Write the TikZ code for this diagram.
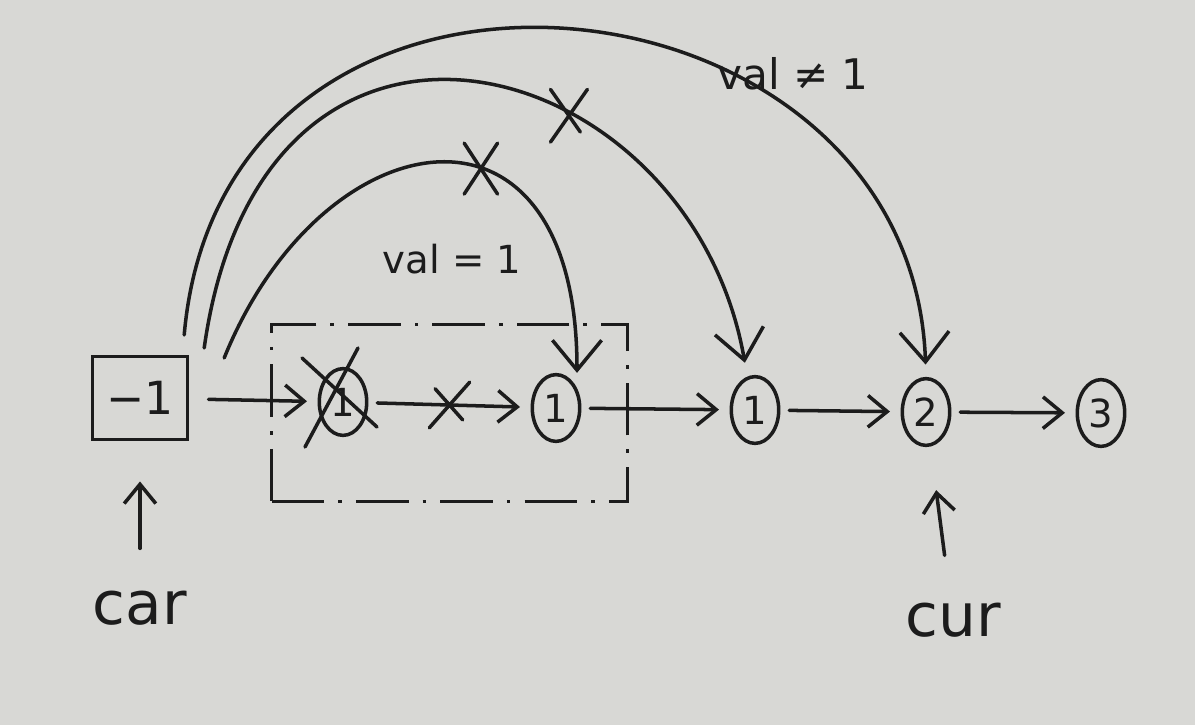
\documentclass[tikz,border=0pt]{standalone}
\usepackage{fontspec}
\setmainfont{DejaVu Sans}
\usepackage{tikz}
\usetikzlibrary{arrows.meta, positioning, shapes.geometric, shapes.misc, fit}

\definecolor{paper}{RGB}{216,216,213}
\definecolor{ink}{RGB}{28,28,28}

\begin{document}
\begin{tikzpicture}[x=0.02cm, y=0.02cm,
    ink/.style={draw=ink, text=ink, line width=2pt, line cap=round},
    cell/.style={ink, ellipse, minimum width=27pt, minimum height=38pt, inner sep=0pt,
      font=\fontsize{22}{22}\selectfont},
    head/.style={ink, rectangle, minimum width=54pt, minimum height=47pt,
      font=\fontsize{26}{26}\selectfont},
    link/.style={ink, -{Straight Barb[length=11pt, width=18pt]}, shorten <=5pt, shorten >=6pt},
    jump/.style={ink, -{Straight Barb[length=17pt, width=28pt]}},
    ptr/.style={ink, -{Straight Barb[length=11pt, width=18pt]}},
    xmark/.style={ink, cross out, arrows=-, inner sep=0pt},
    group/.style={draw=ink, line width=1.6pt, dash pattern=on 30pt off 8pt on 2pt off 8pt},
    lbl/.style={text=ink, inner sep=0pt}]
  \useasboundingbox (0,0) rectangle (1195,725);
  \fill[paper] (0,0) rectangle (1195,725);
  % list nodes
  \node[head] (m1) at (140,327) {−1};
  \node[cell] (c1) at (343,323) {1};
  \node[cell] (n2) at (556,317) {1};
  \node[cell] (n3) at (755,315) {1};
  \node[cell] (n4) at (926,313) {2};
  \node[cell] (n5) at (1101,312) {3};
  % removed node
  \draw[ink] ([shift={(-41,44)}]c1.center) -- ([shift={(34,-25)}]c1.center);
  \draw[ink] ([shift={(15,54)}]c1.center) -- ([shift={(-38,-45)}]c1.center);
  \node[group, fit=(c1)(n2), inner xsep=0.92cm, inner ysep=1cm, yshift=-0.16cm] (del) {};
  % next pointers
  \draw[link, shorten <=11pt] (m1) -- (c1);
  \draw[link] (c1) -- (n2) node[xmark, midway, minimum width=21pt, minimum height=24pt] {};
  \draw[link] (n2) -- (n3);
  \draw[link] (n3) -- (n4);
  \draw[link] (n4) -- (n5);
  % jumps from the head
  \draw[jump] ([shift={(35,-3)}]m1.north east) .. controls +(68:260) and +(90:300) ..
    ([shift={(21,0)}]n2.north) node[xmark, pos=0.6, minimum width=17pt, minimum height=27pt] {};
  \draw[jump, shorten >=7pt] ([shift={(15,7)}]m1.north east) .. controls +(82:420) and +(100:330) ..
    ([shift={(-8,0)}]n3.north) node[xmark, pos=0.63, minimum width=19pt, minimum height=28pt] {};
  \draw[jump, shorten >=7pt] ([shift={(-5,20)}]m1.north east) .. controls +(85:450) and +(92:420) ..
    (n4.north);
  \node[lbl, font=\fontsize{22}{22}\selectfont] (eq) at (452,466) {val = 1};
  \node[lbl, font=\fontsize{24}{24}\selectfont] (neq) at (793,651) {val ≠ 1};
  % walkers
  \node[lbl, font=\fontsize{34}{34}\selectfont] (car) at (140,117) {car};
  \node[lbl, font=\fontsize{34}{34}\selectfont] (cur) at (953,105) {cur};
  \draw[ptr, shorten <=24pt, shorten >=23pt] (car) -- (m1);
  \draw[ptr, shorten <=27pt, shorten >=25pt] (cur) -- (n4);
\end{tikzpicture}
\end{document}
